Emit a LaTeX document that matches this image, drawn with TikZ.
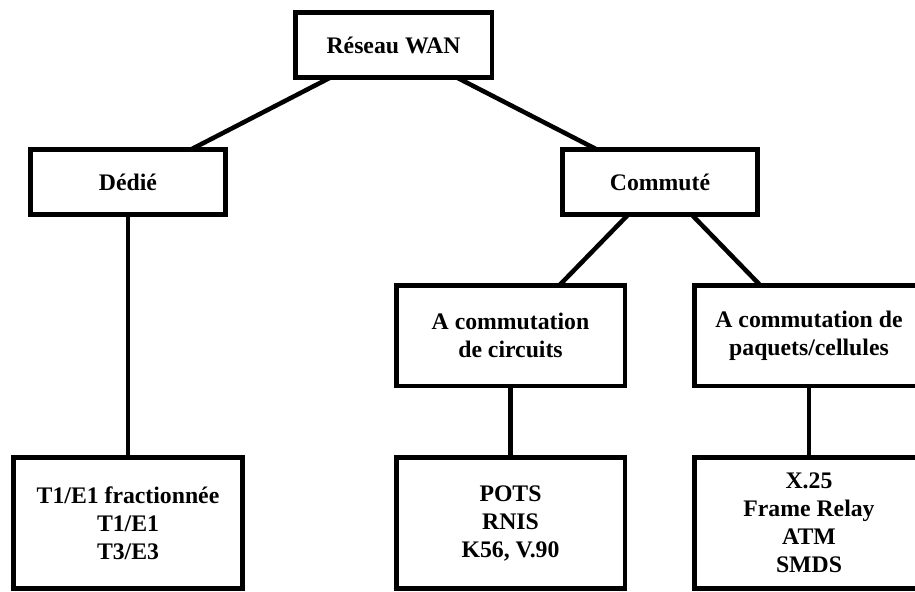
\documentclass[tikz,border=0pt]{standalone}
\usepackage{fontspec}
\setmainfont{Liberation Serif}

\begin{document}
\begin{tikzpicture}[x=0.75pt,y=-0.75pt,
    box/.style={draw, line width=3.4pt, inner sep=0pt, outer sep=0pt,
                align=center, font=\bfseries\fontsize{17.8pt}{21pt}\selectfont},
    small/.style={box, minimum width=146.6pt, minimum height=49.1pt},
    mid/.style={box, minimum width=171.4pt, minimum height=75.4pt},
    leaf/.style={box, minimum width=171.4pt, minimum height=98.6pt},
    link/.style={line width=3.4pt}]
\useasboundingbox (0,0) rectangle (915,592);
\clip (0,0) rectangle (915,592);
% boxes
\node[small, minimum width=147.4pt] (wan) at (393.5,45) {R\'eseau WAN};
\node[small] (dedie) at (128,182) {D\'edi\'e};
\node[small] (commute) at (660,182) {Commut\'e};
\node[mid] (circuits) at (510.5,335.5) {A commutation\\de circuits};
\node[mid] (paquets) at (809,335.5) {A commutation de\\paquets/cellules};
\node[leaf] (t1) at (128,523) {T1/E1 fractionn\'ee\\T1/E1\\T3/E3};
\node[leaf] (pots) at (510.5,523) {POTS\\RNIS\\K56, V.90};
\node[leaf] (x25) at (809,523) {X.25\\Frame Relay\\ATM\\SMDS};
% links
\draw[link] (wan) -- (dedie);
\draw[link] (wan) -- (commute);
\draw[link] (dedie) -- (t1);
\draw[link] (commute) -- (circuits);
\draw[link] (commute) -- (paquets);
\draw[link] (circuits) -- (pots);
\draw[link] (paquets) -- (x25);
\end{tikzpicture}
\end{document}
